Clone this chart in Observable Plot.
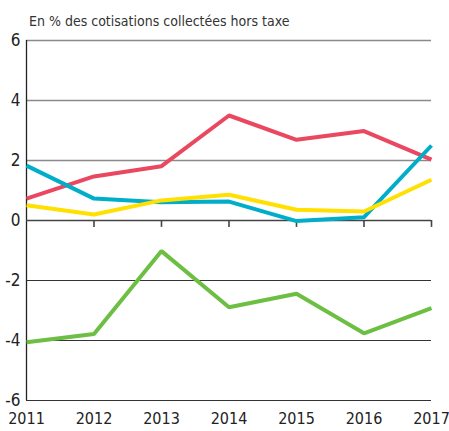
<!DOCTYPE html>
<html>
<head>
<meta charset="utf-8">
<script src="https://cdn.jsdelivr.net/npm/d3@7"></script>
<script src="https://cdn.jsdelivr.net/npm/@observablehq/plot@0.6"></script>
<style>
  body { margin: 0; background: #fff; }
  #wrap { position: relative; width: 449px; height: 431px; font-family: "Liberation Sans Narrow", "DejaVu Sans Condensed", "Roboto Condensed", sans-serif; }
  #title { position: absolute; left: 29px; top: 13px; font-size: 14px; color: #333; white-space: nowrap; }
</style>
</head>
<body>
<div id="wrap">
  <div id="title">En % des cotisations collectées hors taxe</div>
  <div id="chart"></div>
</div>
<script>
const years = [2011, 2012, 2013, 2014, 2015, 2016, 2017];
const redValues    = [0.73, 1.47, 1.81, 3.50, 2.69, 2.98, 2.03];
const cyanValues   = [1.83, 0.73, 0.61, 0.63, -0.02, 0.11, 2.50];
const yellowValues = [0.51, 0.20, 0.67, 0.86, 0.36, 0.30, 1.36];
const greenValues  = [-4.06, -3.78, -1.02, -2.89, -2.44, -3.76, -2.92];
const yTicks = [-6, -4, -2, 0, 2, 4, 6];
const posGrid = [2, 4, 6];
const negGrid = [-2, -4, -6];

const series = [
  {name: "rouge", color: "#e94860", values: redValues},
  {name: "bleu", color: "#00aeca", values: cyanValues},
  {name: "jaune", color: "#ffe000", values: yellowValues},
  {name: "vert", color: "#6cbf43", values: greenValues}
];
const rows = series.flatMap(s => s.values.map((v, i) => ({serie: s.name, year: years[i], value: v})));

const font = '"Liberation Sans Narrow", "DejaVu Sans Condensed", "Roboto Condensed", sans-serif';

const chart = Plot.plot({
  width: 449,
  height: 431,
  marginTop: 40,
  marginBottom: 31,
  marginLeft: 26,
  marginRight: 18,
  style: {fontFamily: font, fontSize: "17px", color: "#222", background: "#fff", overflow: "visible"},
  x: {domain: [2011, 2017], label: null},
  y: {domain: [-6, 6], label: null},
  color: {domain: series.map(s => s.name), range: series.map(s => s.color)},
  marks: [
    Plot.ruleY(posGrid, {stroke: "#8a8a8a", strokeWidth: 1.5}),
    Plot.ruleY(negGrid, {stroke: "#333", strokeWidth: 1.2}),
    Plot.ruleX([2011], {y1: -6, y2: 6, stroke: "#222", strokeWidth: 1.3}),
    Plot.ruleY([0], {stroke: "#444", strokeWidth: 1.6}),
    Plot.ruleX(years.slice(1), {y1: 0, y2: -0.23, stroke: "#444", strokeWidth: 1.6}),
    Plot.line(rows, {x: "year", y: "value", z: "serie", stroke: "serie", strokeWidth: 4, strokeLinejoin: "miter", strokeLinecap: "butt"}),
    Plot.axisY({ticks: yTicks, tickSize: 0, tickPadding: 6, tickFormat: d => String(d), fontSize: 17, label: null}),
    Plot.axisX({ticks: years, tickSize: 0, tickPadding: 12, tickFormat: d => String(d), fontSize: 16, label: null})
  ]
});
document.getElementById("chart").appendChild(chart);
</script>
</body>
</html>
